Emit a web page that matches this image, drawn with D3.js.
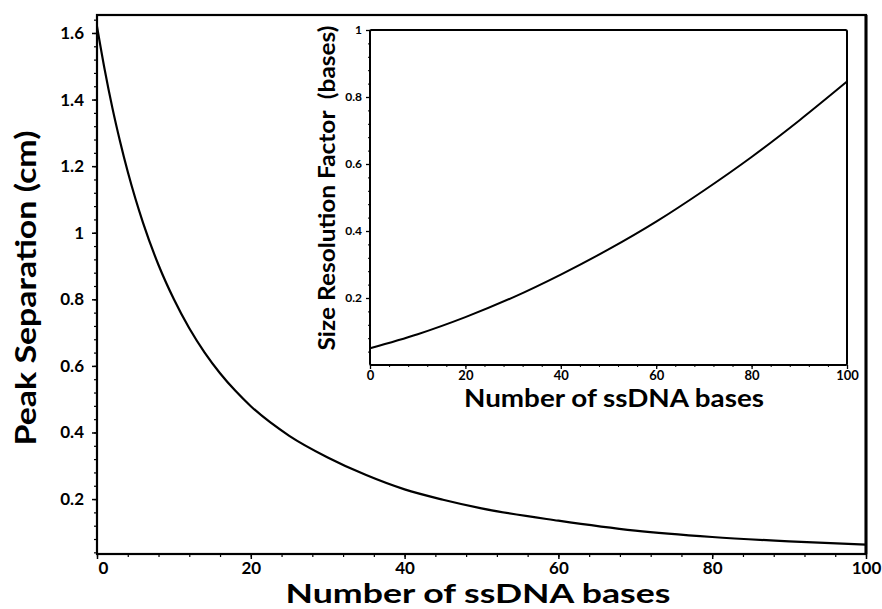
<!DOCTYPE html>
<html>
<head>
<meta charset="utf-8">
<script src="https://cdn.jsdelivr.net/npm/d3@7"></script>
<style>
  body { margin: 0; background: #fff; }
  text { font-family: Lato, "Open Sans", sans-serif; fill: #000; }
</style>
</head>
<body>
<svg id="chart" width="882" height="609"></svg>
<script>
// Peak separation versus fragment length (main panel)
const sepBases = [0, 1, 2, 3, 4, 5, 6, 8, 10, 12, 14, 16, 18, 20, 25, 30, 35, 40, 45, 50, 60, 70, 80, 90, 100];
const peakSeparation = [1.62, 1.49, 1.375, 1.274, 1.183, 1.102, 1.029, 0.903, 0.800, 0.713, 0.640, 0.578, 0.525, 0.479, 0.390, 0.325, 0.272, 0.229, 0.198, 0.172, 0.135, 0.105, 0.086, 0.073, 0.063];

// Size resolution factor versus fragment length (inset)
const resBases = [0, 10, 20, 30, 40, 50, 60, 70, 80, 90, 100];
const resolutionFactor = [0.05, 0.092, 0.143, 0.202, 0.270, 0.345, 0.428, 0.521, 0.621, 0.730, 0.846];

// Tick labels
const mainXTicks = [0, 20, 40, 60, 80, 100];
const mainYTicks = [0.2, 0.4, 0.6, 0.8, 1, 1.2, 1.4, 1.6];
const insetXTicks = [0, 20, 40, 60, 80, 100];
const insetYTicks = [0.2, 0.4, 0.6, 0.8, 1];

const svg = d3.select("#chart");
const FONT = 'Lato, "Open Sans", sans-serif';

// ---------- main panel ----------
const M = { left: 97, right: 866, top: 15, bottom: 554 };
const x = d3.scaleLinear().domain([0, 100]).range([M.left, M.right]);
const y = d3.scaleLinear().domain([0.035, 1.654]).range([M.bottom, M.top]);

const main = svg.append("g");

// minor ticks
const yMinor = d3.range(1, 42).map(i => +(i * 0.04).toFixed(2));
const xMinor = d3.range(0, 101, 4);

main.append("g")
  .attr("transform", `translate(${M.left},0)`)
  .call(d3.axisLeft(y).tickValues(yMinor).tickSize(3).tickFormat(""))
  .call(g => g.select(".domain").remove())
  .call(g => g.selectAll("line").attr("stroke-width", 1.2));

main.append("g")
  .attr("transform", `translate(0,${M.bottom})`)
  .call(d3.axisBottom(x).tickValues(xMinor).tickSize(3).tickFormat(""))
  .call(g => g.select(".domain").remove())
  .call(g => g.selectAll("line").attr("stroke-width", 1.2));

// major ticks + labels
main.append("g")
  .attr("transform", `translate(${M.left},0)`)
  .call(d3.axisLeft(y).tickValues(mainYTicks).tickSize(5).tickPadding(8).tickFormat(d => d))
  .call(g => g.select(".domain").remove())
  .call(g => g.selectAll("line").attr("stroke-width", 1.5))
  .call(g => g.selectAll("text").attr("font-size", 17).attr("font-weight", 700)
    .style("font-family", FONT));

main.append("g")
  .attr("transform", `translate(0,${M.bottom})`)
  .call(d3.axisBottom(x).tickValues(mainXTicks).tickSize(5).tickPadding(2.5).tickFormat(d => d))
  .call(g => g.select(".domain").remove())
  .call(g => g.selectAll("line").attr("stroke-width", 1.5))
  .call(g => g.selectAll("text").attr("font-size", 17).attr("font-weight", 700)
    .style("font-family", FONT)
    .attr("dx", d => d === 0 ? 6 : 0));

// frame
main.append("rect")
  .attr("x", M.left).attr("y", M.top)
  .attr("width", M.right - M.left).attr("height", M.bottom - M.top)
  .attr("fill", "none").attr("stroke", "#000").attr("stroke-width", 2.2);
main.append("line")
  .attr("x1", M.right).attr("x2", M.right)
  .attr("y1", M.top).attr("y2", M.bottom)
  .attr("stroke", "#000").attr("stroke-width", 3);

// curve
const mainLine = d3.line()
  .x((d, i) => x(sepBases[i]))
  .y(d => y(d))
  .curve(d3.curveMonotoneX);
main.append("path")
  .datum(peakSeparation)
  .attr("d", mainLine)
  .attr("fill", "none").attr("stroke", "#000").attr("stroke-width", 2.2);

// axis titles
main.append("text")
  .attr("x", 478).attr("y", 603)
  .attr("text-anchor", "middle")
  .attr("font-size", 27).attr("font-weight", 700)
  .attr("textLength", 385).attr("lengthAdjust", "spacingAndGlyphs")
  .text("Number of ssDNA bases");

main.append("text")
  .attr("transform", "translate(36,288) rotate(-90)")
  .attr("text-anchor", "middle")
  .attr("font-size", 28).attr("font-weight", 700)
  .attr("textLength", 315).attr("lengthAdjust", "spacingAndGlyphs")
  .text("Peak Separation (cm)");

// ---------- inset ----------
const I = { left: 370, right: 847, top: 30, bottom: 365 };
const ix = d3.scaleLinear().domain([0, 100]).range([I.left, I.right]);
const iy = d3.scaleLinear().domain([0, 1]).range([I.bottom, I.top]);

const inset = svg.append("g");
inset.append("rect")
  .attr("x", I.left).attr("y", I.top)
  .attr("width", I.right - I.left).attr("height", I.bottom - I.top)
  .attr("fill", "#fff");

const iyMinor = d3.range(1, 26).map(i => +(i * 0.04).toFixed(2));
inset.append("g")
  .attr("transform", `translate(${I.left},0)`)
  .call(d3.axisLeft(iy).tickValues(iyMinor).tickSize(2).tickFormat(""))
  .call(g => g.select(".domain").remove());
inset.append("g")
  .attr("transform", `translate(0,${I.bottom})`)
  .call(d3.axisBottom(ix).tickValues(xMinor).tickSize(2).tickFormat(""))
  .call(g => g.select(".domain").remove());

inset.append("g")
  .attr("transform", `translate(${I.left},0)`)
  .call(d3.axisLeft(iy).tickValues(insetYTicks).tickSize(4).tickPadding(4).tickFormat(d => d))
  .call(g => g.select(".domain").remove())
  .call(g => g.selectAll("line").attr("stroke-width", 1.3))
  .call(g => g.selectAll("text").attr("font-size", 12).attr("font-weight", 700)
    .style("font-family", FONT));

inset.append("g")
  .attr("transform", `translate(0,${I.bottom})`)
  .call(d3.axisBottom(ix).tickValues(insetXTicks).tickSize(4).tickPadding(2).tickFormat(d => d))
  .call(g => g.select(".domain").remove())
  .call(g => g.selectAll("line").attr("stroke-width", 1.3))
  .call(g => g.selectAll("text").attr("font-size", 13).attr("font-weight", 700)
    .style("font-family", FONT));

inset.append("rect")
  .attr("x", I.left).attr("y", I.top)
  .attr("width", I.right - I.left).attr("height", I.bottom - I.top)
  .attr("rx", 1.5)
  .attr("fill", "none").attr("stroke", "#000").attr("stroke-width", 2);

const insetLine = d3.line()
  .x((d, i) => ix(resBases[i]))
  .y(d => iy(d))
  .curve(d3.curveMonotoneX);
inset.append("path")
  .datum(resolutionFactor)
  .attr("d", insetLine)
  .attr("fill", "none").attr("stroke", "#000").attr("stroke-width", 2);

inset.append("text")
  .attr("x", 614).attr("y", 407)
  .attr("text-anchor", "middle")
  .attr("font-size", 24).attr("font-weight", 700)
  .attr("textLength", 300).attr("lengthAdjust", "spacingAndGlyphs")
  .text("Number of ssDNA bases");

inset.append("text")
  .attr("transform", "translate(335,188) rotate(-90)")
  .attr("text-anchor", "middle")
  .attr("font-size", 23).attr("font-weight", 700)
  .attr("textLength", 325).attr("lengthAdjust", "spacingAndGlyphs")
  .style("white-space", "pre")
  .text("Size Resolution Factor  (bases)");
</script>
</body>
</html>
